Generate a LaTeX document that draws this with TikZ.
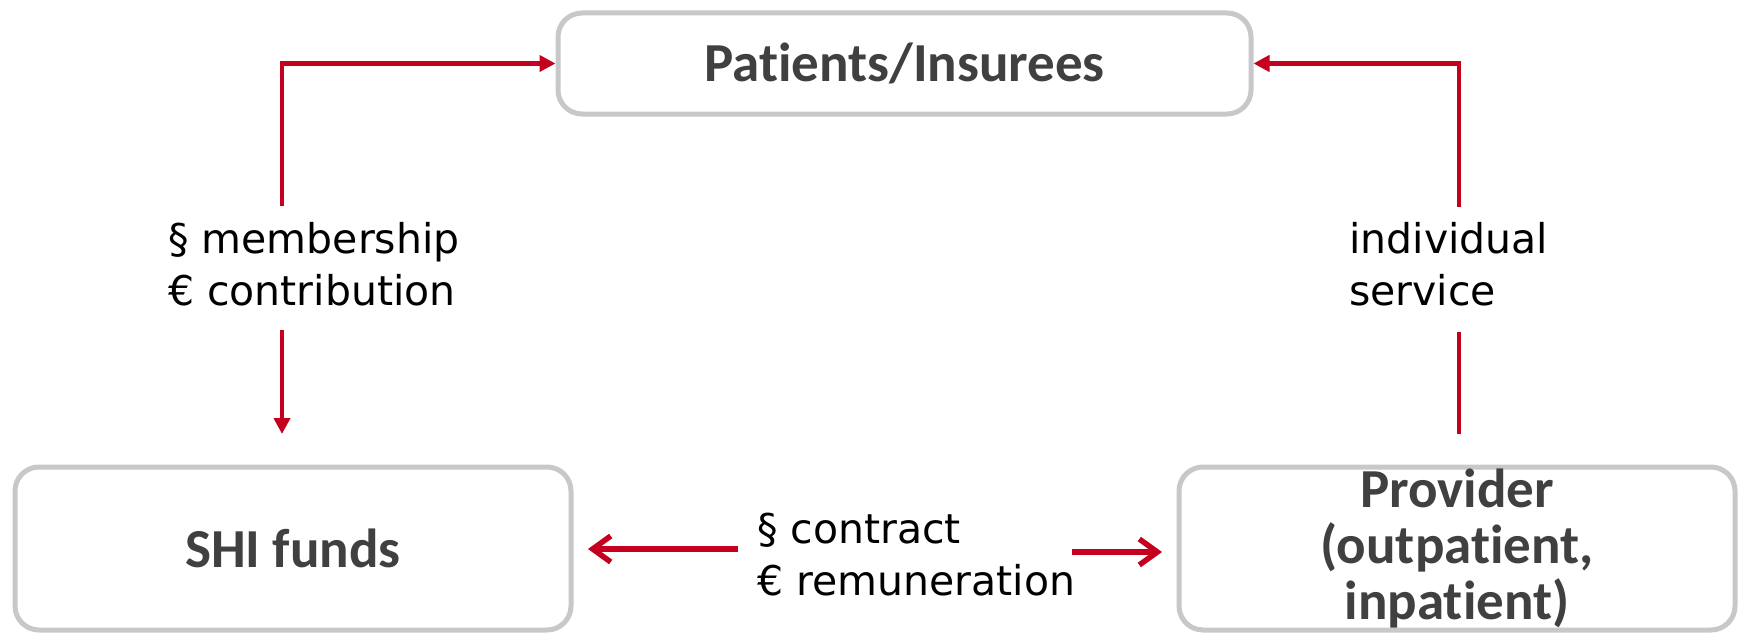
\documentclass[tikz,border=0pt]{standalone}
\usepackage{fontspec}
\setmainfont{DejaVu Sans}
\newfontfamily\boxfont[Ligatures=NoCommon]{Carlito}
\usetikzlibrary{arrows.meta}
\definecolor{arrowred}{RGB}{196,0,30}
\definecolor{boxgrey}{RGB}{200,200,200}
\definecolor{boxtext}{RGB}{64,64,64}
\begin{document}
\begin{tikzpicture}[x=1pt,y=-1pt,
  entity/.style={draw=boxgrey, line width=5pt, rounded corners=24pt, fill=white,
    inner sep=0pt, align=center, text=boxtext,
    font=\boxfont\bfseries\fontsize{55}{56}\selectfont},
  flowlabel/.style={inner sep=0pt, align=left, anchor=base west, text=black,
    font=\fontsize{41}{52}\selectfont},
  flow/.style={draw=arrowred, line width=4.5pt, -{Triangle[length=16pt,width=16pt]}},
  flowline/.style={draw=arrowred, line width=4.5pt},
  swap/.style={draw=arrowred, line width=5.5pt, -{Straight Barb[length=18pt,width=26pt]}}
]
\useasboundingbox (0,0) rectangle (1744,634);

\node[entity, minimum width=693pt, minimum height=101pt] (top) at (904.5,63.5) {Patients/Insurees};
\node[entity, minimum width=556pt, minimum height=163pt] (shi) at (293,548.5) {SHI funds};
\node[entity, minimum width=556pt, minimum height=163pt] (prov) at (1457,548.5) {Provider\\(outpatient,\\inpatient)};

% base anchor = baseline of the last line
\node[flowlabel] (mem) at (168,305) {§ membership\\€ contribution};
\node[flowlabel] (ind) at (1349,305) {individual\\service};
\node[flowlabel] (con) at (757,595) {§ contract\\€ remuneration};

\coordinate (m1) at (282,206);
\coordinate (m2) at (282,330);
\coordinate (m3) at (282,434);
\coordinate (i1) at (1459,207);
\coordinate (i2) at (1459,332);
\coordinate (i3) at (1459,434);
\coordinate (c1) at (738,549);
\coordinate (c2) at (588,549);
\coordinate (c3) at (1072,552);
\coordinate (c4) at (1162,552);

\draw[flow] (m1) |- (top.west);
\draw[flow] (m2) -- (m3);
\draw[flowline] (i3) -- (i2);
\draw[flow] (i1) |- (top.east);
\draw[swap] (c1) -- (c2);
\draw[swap] (c3) -- (c4);
\end{tikzpicture}
\end{document}
